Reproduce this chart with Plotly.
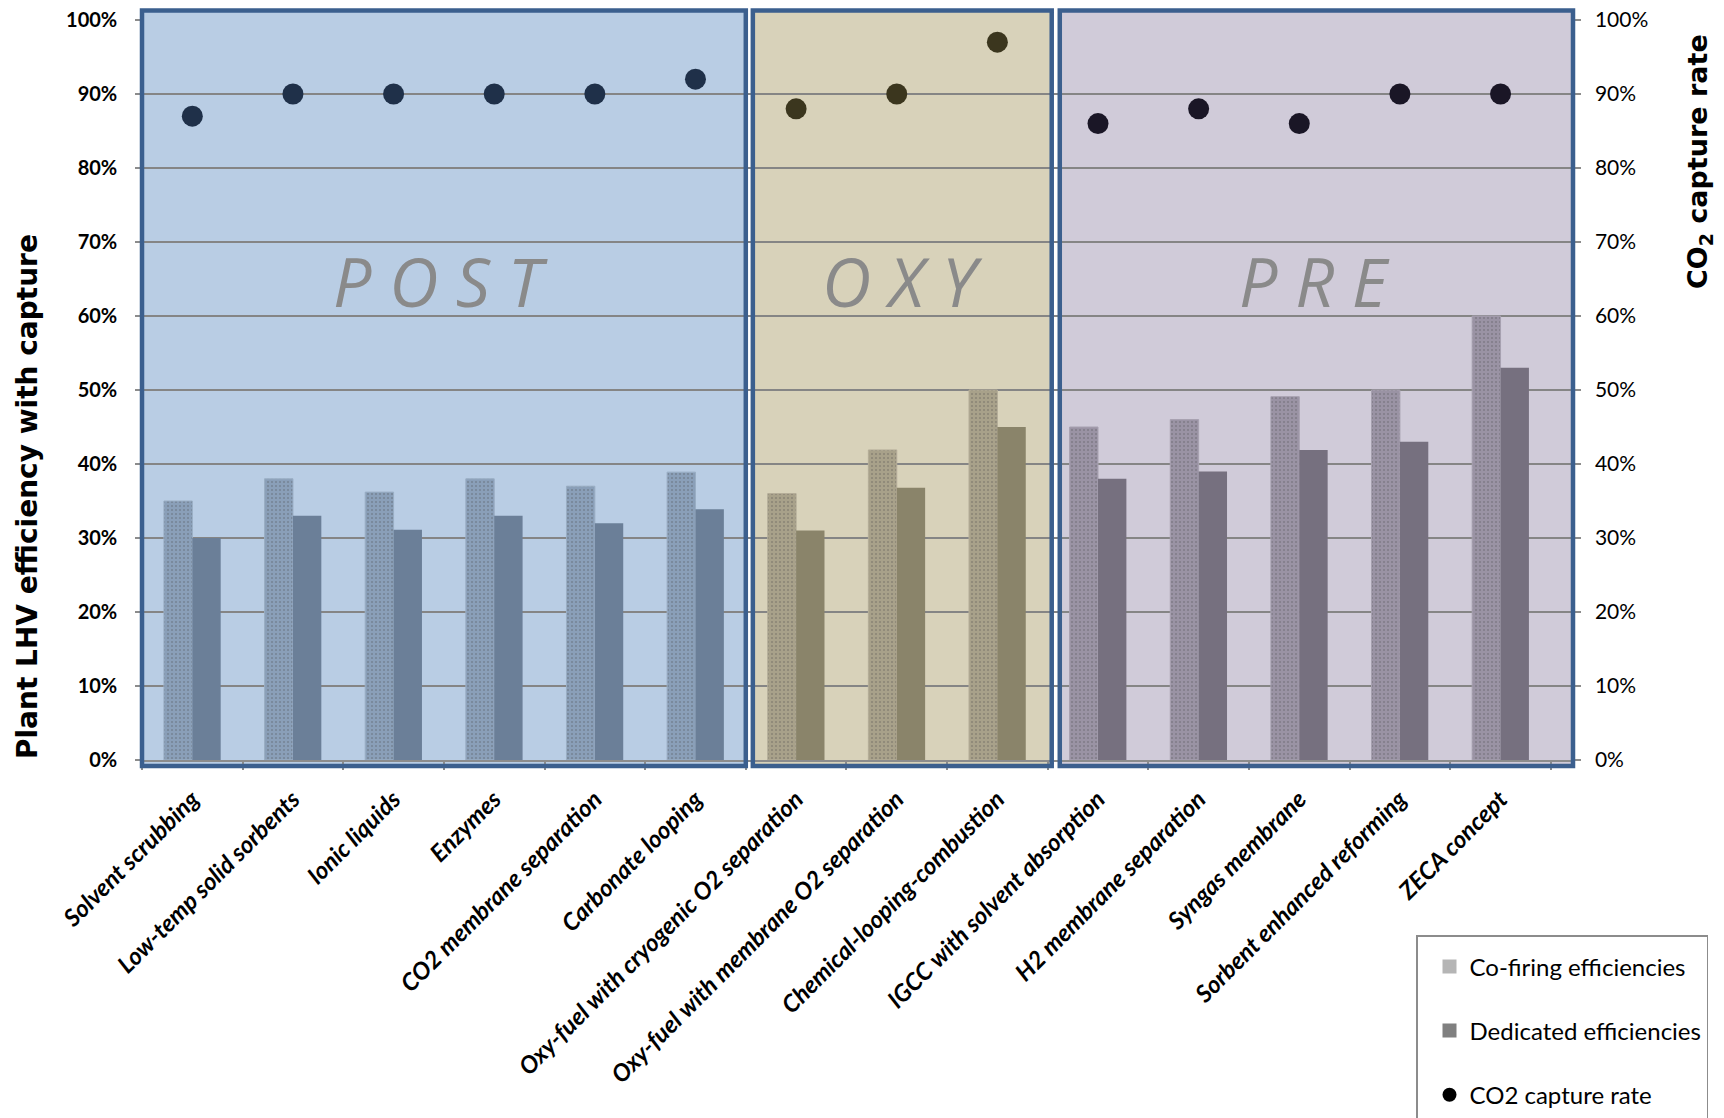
import plotly.graph_objects as go

# ---------------- data ----------------
categories = [
    "Solvent scrubbing", "Low-temp solid sorbents", "Ionic liquids", "Enzymes",
    "CO2 membrane separation", "Carbonate looping",
    "Oxy-fuel with cryogenic O2 separation", "Oxy-fuel with membrane O2 separation",
    "Chemical-looping-combustion",
    "IGCC with solvent absorption", "H2 membrane separation", "Syngas membrane",
    "Sorbent enhanced reforming", "ZECA concept",
]
groups = ["POST"] * 6 + ["OXY"] * 3 + ["PRE"] * 5
cofiring_eff = [35.0, 38.0, 36.2, 38.0, 37.0, 38.9, 36.0, 41.9, 50.0, 45.0, 46.0, 49.1, 50.0, 60.0]
dedicated_eff = [30.0, 33.0, 31.1, 33.0, 32.0, 33.9, 31.0, 36.8, 45.0, 38.0, 39.0, 41.9, 43.0, 53.0]
capture_rate = [87, 90, 90, 90, 90, 92, 88, 90, 97, 86, 88, 86, 90, 90]
tick_vals = [0, 10, 20, 30, 40, 50, 60, 70, 80, 90, 100]
tick_labels = ["0%", "10%", "20%", "30%", "40%", "50%", "60%", "70%", "80%", "90%", "100%"]
section_names = ["POST", "OXY", "PRE"]

# ---------------- styles ----------------
bg_col = {"POST": "#b9cde4", "OXY": "#d8d2ba", "PRE": "#d0cbd9"}
co_col = {"POST": "#8a9fb8", "OXY": "#a8a18a", "PRE": "#9a93a4"}
co_dot = {"POST": "#9aaec4", "OXY": "#b4ad98", "PRE": "#a7a1b0"}
de_col = {"POST": "#6b7f98", "OXY": "#8a846a", "PRE": "#76707f"}
pt_col = {"POST": "#1f3049", "OXY": "#3b361e", "PRE": "#1a1626"}
box_span = {"POST": (-0.5, 5.5), "OXY": (5.57, 8.54), "PRE": (8.62, 13.72)}
label_pos = {"POST": 2.47, "OXY": 7.06, "PRE": 11.15}
label_txt = {"POST": "P O S T", "OXY": "O X Y", "PRE": "P R E"}

XMIN, XMAX = -0.5, 13.72
W, H = 1724, 1118
L, R, T, B = 142, 151, 20, 358

fig = go.Figure()

fig.add_trace(go.Bar(
    x=categories, y=cofiring_eff, name="Co-firing efficiencies", showlegend=False,
    marker=dict(color=[co_col[g] for g in groups],
                line=dict(color=[co_dot[g] for g in groups], width=1),
                pattern=dict(shape=".", size=4, solidity=0.2,
                             fgcolor=[co_dot[g] for g in groups], fgopacity=0.3)),
    hoverinfo="skip",
))
fig.add_trace(go.Bar(
    x=categories, y=dedicated_eff, name="Dedicated efficiencies", showlegend=False,
    marker=dict(color=[de_col[g] for g in groups], line=dict(width=0)),
    hoverinfo="skip",
))
fig.add_trace(go.Scatter(
    x=categories, y=capture_rate, yaxis="y2", mode="markers", showlegend=False,
    name="CO2 capture rate",
    marker=dict(size=21, color=[pt_col[g] for g in groups]),
    hoverinfo="skip",
))

# legend entries (neutral gray keys as in the original legend)
fig.add_trace(go.Scatter(x=[None], y=[None], mode="markers", name="Co-firing efficiencies",
                         legendgroup="a",
                         marker=dict(symbol="square", size=14, color="#b5b5b5")))
fig.add_trace(go.Scatter(x=[None], y=[None], mode="markers", name="Dedicated efficiencies",
                         legendgroup="b",
                         marker=dict(symbol="square", size=14, color="#808080")))
fig.add_trace(go.Scatter(x=[None], y=[None], mode="markers", name="CO2 capture rate",
                         legendgroup="c",
                         marker=dict(symbol="circle", size=14, color="#000000")))


def px(v):
    return (v - XMIN) / (XMAX - XMIN)


ph = H - T - B
y_top = 1 + (T - 10.5) / ph
y_bot = -6.0 / ph

shapes = []
for s in section_names:
    x0, x1 = box_span[s]
    shapes.append(dict(type="rect", xref="paper", yref="paper", x0=px(x0), x1=px(x1),
                       y0=y_bot, y1=y_top, fillcolor=bg_col[s], line=dict(width=0),
                       layer="below"))
for s in section_names:
    x0, x1 = box_span[s]
    shapes.append(dict(type="rect", xref="paper", yref="paper", x0=px(x0), x1=px(x1),
                       y0=y_bot, y1=y_top, fillcolor="rgba(0,0,0,0)",
                       line=dict(color="#3b5f8e", width=4.5), layer="above"))

annotations = []
for s in section_names:
    annotations.append(dict(x=label_pos[s], y=64.8, xref="x", yref="y", text=f"<i>{label_txt[s]}</i>",
                            showarrow=False, xanchor="center", yanchor="middle",
                            font=dict(family="Open Sans", size=68, color="#8a8a8a")))
annotations.append(dict(x=(27 - L) / (W - L - R), y=(H - B - 497) / ph, xref="paper", yref="paper",
                        text="<b>Plant LHV efficiency with capture</b>", textangle=-90,
                        showarrow=False, xanchor="center", yanchor="middle",
                        font=dict(family="DejaVu Sans", size=28, color="black")))
annotations.append(dict(x=(1699 - L) / (W - L - R), y=(H - B - 162) / ph, xref="paper", yref="paper",
                        text="<b>CO<sub>2</sub> capture rate</b>", textangle=-90,
                        showarrow=False, xanchor="center", yanchor="middle",
                        font=dict(family="DejaVu Sans", size=27, color="black")))

fig.update_layout(
    width=W, height=H,
    margin=dict(l=L, r=R, t=T, b=B, autoexpand=False),
    paper_bgcolor="white", plot_bgcolor="rgba(0,0,0,0)",
    barmode="group", bargap=0.436, bargroupgap=0,
    shapes=shapes, annotations=annotations,
    xaxis=dict(
        type="category", range=[XMIN, XMAX], tickson="boundaries",
        ticks="outside", ticklen=8, tickcolor="#8c8c8c", tickwidth=1.5,
        tickvals=categories, ticktext=[f"<b><i>{c}</i></b>" for c in categories],
        tickangle=-45, ticklabelstandoff=14,
        tickfont=dict(family="Lato", size=24, color="black"),
        showline=True, linecolor="#8c8c8c", linewidth=1.5, showgrid=False,
        zeroline=False, fixedrange=True,
    ),
    yaxis=dict(
        range=[0, 100], tickvals=tick_vals, ticktext=tick_labels,
        ticks="outside", ticklen=5, tickcolor="#8c8c8c", tickwidth=1.5,
        ticklabelstandoff=14,
        tickfont=dict(family="Lato", size=20, color="black", weight="bold"),
        showgrid=True, gridcolor="#858585", gridwidth=1.5,
        showline=True, linecolor="#8c8c8c", linewidth=1.5, zeroline=False,
    ),
    yaxis2=dict(
        range=[0, 100], tickvals=tick_vals, ticktext=tick_labels, overlaying="y", side="right",
        ticks="outside", ticklen=6, tickcolor="#8c8c8c", tickwidth=1.5,
        ticklabelstandoff=10,
        tickfont=dict(family="Lato", size=21, color="black"),
        showgrid=False, showline=True, linecolor="#8c8c8c", linewidth=1.5, zeroline=False,
    ),
    legend=dict(
        x=(1416 - L) / (W - L - R), y=(H - B - 935) / ph, xanchor="left", yanchor="top",
        bgcolor="white", bordercolor="#8c8c8c", borderwidth=1.5,
        font=dict(family="Lato", size=24, color="black"),
        title=dict(text="&nbsp;", font=dict(size=6)),
        indentation=12,
        tracegroupgap=30, traceorder="grouped",
    ),
)

fig.write_html("out.html", config={"displayModeBar": False},
               post_script="document.body.style.margin='0px';")
